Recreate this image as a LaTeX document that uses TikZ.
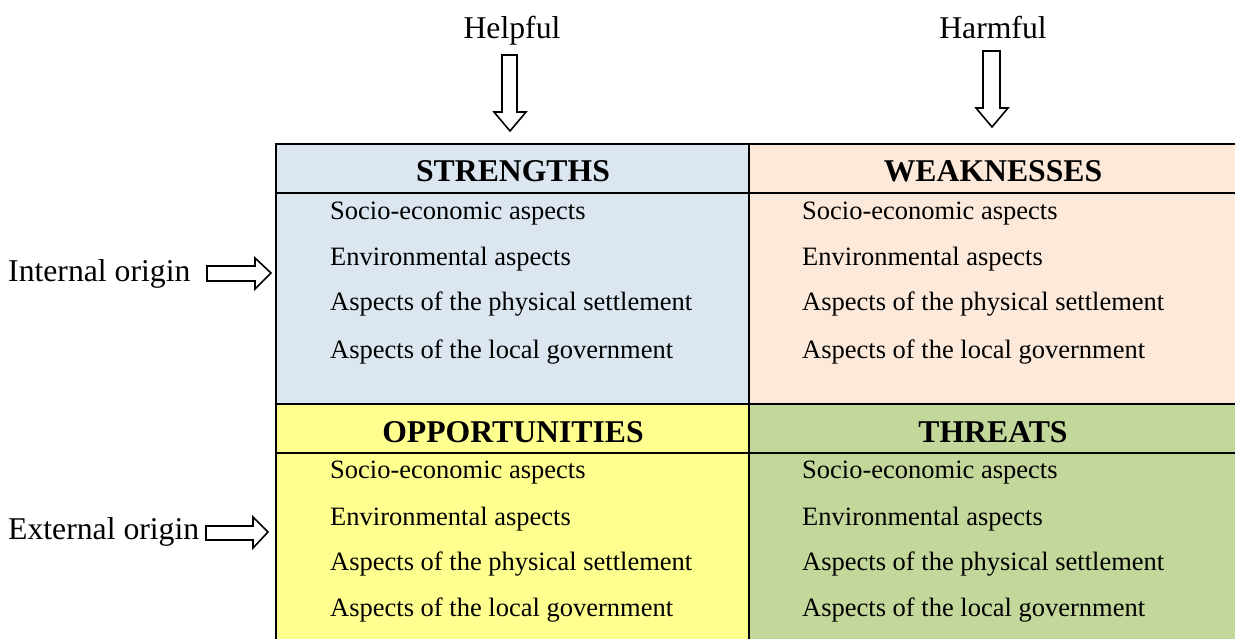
\documentclass[tikz,border=0pt]{standalone}
\usepackage{fontspec}
\setmainfont{Liberation Serif}
\definecolor{strengthblue}{HTML}{DCE6F1}
\definecolor{weakpeach}{HTML}{FDE9D9}
\definecolor{opportyellow}{HTML}{FFFF8F}
\definecolor{threatgreen}{HTML}{C4D79B}
\tikzset{
  head/.style={font=\fontsize{31.7}{34}\selectfont\bfseries, anchor=base, inner sep=0pt},
  side/.style={font=\fontsize{31.7}{34}\selectfont, anchor=base, inner sep=0pt},
  item/.style={font=\fontsize{26.5}{30}\selectfont, anchor=base west, inner sep=0pt},
  grid/.style={line width=2pt},
  blockarrow/.style={line width=1.6pt, fill=white, line join=miter}
}
\begin{document}
\begin{tikzpicture}[x=1pt, y=-1pt]
    \useasboundingbox (0,0) rectangle (1235,639);

    % cell colours
    \fill[strengthblue] (276,144) rectangle (749,404);
    \fill[weakpeach] (749,144) rectangle (1235,404);
    \fill[opportyellow] (276,404) rectangle (749,639);
    \fill[threatgreen] (749,404) rectangle (1235,639);

    % table lines
    \draw[grid] (276,639) -- (276,144) -- (1235,144);
    \draw[grid] (276,193) -- (1235,193);
    \draw[grid] (276,404) -- (1235,404);
    \draw[grid] (276,453) -- (1235,453);
    \draw[grid] (749,144) -- (749,639);

    % headings
    \node[head] (strengths) at (513,182) {STRENGTHS};
    \node[head] (weaknesses) at (993,182) {WEAKNESSES};
    \node[head] (opportunities) at (513,442) {OPPORTUNITIES};
    \node[head] (threats) at (993,442) {THREATS};

    % strengths
    \node[item] (s1) at (330,220) {Socio-economic aspects};
    \node[item] (s2) at (330,266) {Environmental aspects};
    \node[item] (s3) at (330,311) {Aspects of the physical settlement};
    \node[item] (s4) at (330,358) {Aspects of the local government};

    % weaknesses
    \node[item] (w1) at (802,220) {Socio-economic aspects};
    \node[item] (w2) at (802,266) {Environmental aspects};
    \node[item] (w3) at (802,311) {Aspects of the physical settlement};
    \node[item] (w4) at (802,358) {Aspects of the local government};

    % opportunities
    \node[item] (o1) at (330,478) {Socio-economic aspects};
    \node[item] (o2) at (330,525) {Environmental aspects};
    \node[item] (o3) at (330,570) {Aspects of the physical settlement};
    \node[item] (o4) at (330,616) {Aspects of the local government};

    % threats
    \node[item] (t1) at (802,478) {Socio-economic aspects};
    \node[item] (t2) at (802,525) {Environmental aspects};
    \node[item] (t3) at (802,570) {Aspects of the physical settlement};
    \node[item] (t4) at (802,616) {Aspects of the local government};

    % column and row labels
    \node[side] (helpful) at (512,39) {Helpful};
    \node[side] (harmful) at (993,39) {Harmful};
    \node[side, anchor=base west] (internal) at (8,282) {Internal origin};
    \node[side, anchor=base west] (external) at (8,539) {External origin};

    % block arrows
    \draw[blockarrow] (502,55) -- (517,55) -- (517,112) -- (526,112) -- (510,131)
        -- (494,112) -- (502,112) -- cycle;
    \draw[blockarrow] (983,51) -- (1000,51) -- (1000,108) -- (1008,108) -- (992,127)
        -- (976,108) -- (983,108) -- cycle;
    \draw[blockarrow] (207,266) -- (255,266) -- (255,258) -- (271,273) -- (255,289)
        -- (255,281) -- (207,281) -- cycle;
    \draw[blockarrow] (206,526) -- (253,526) -- (253,517) -- (268,532) -- (253,548)
        -- (253,540) -- (206,540) -- cycle;
\end{tikzpicture}
\end{document}
